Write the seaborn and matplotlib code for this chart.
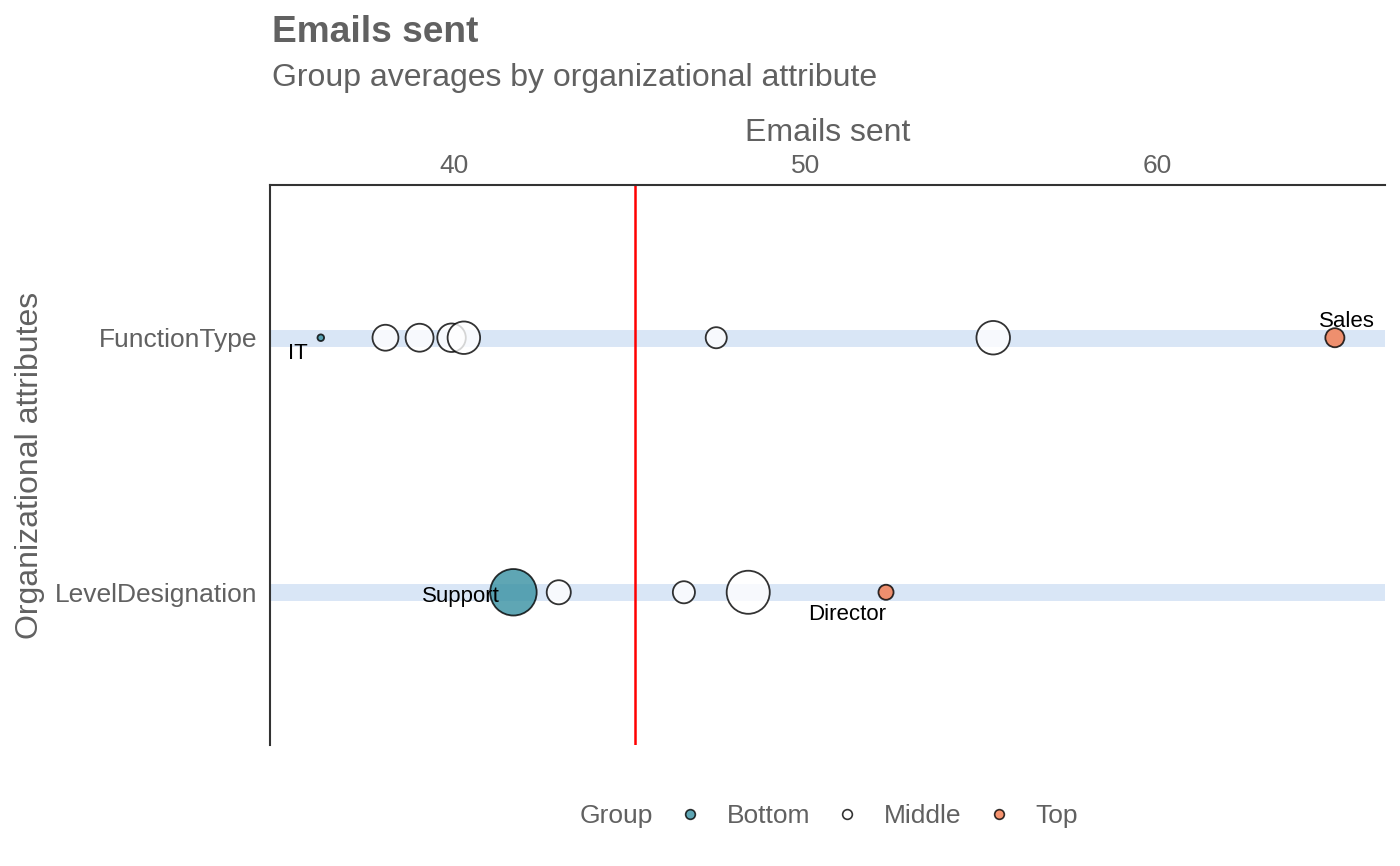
import matplotlib
matplotlib.use("Agg")
import matplotlib.pyplot as plt
import seaborn as sns
import pandas as pd
from matplotlib.lines import Line2D

# ---- data ----
attributes = ["FunctionType"] * 8 + ["LevelDesignation"] * 5
emails = [36.21, 38.05, 39.02, 39.93, 40.28, 47.46, 55.34, 65.06,
          41.69, 42.98, 46.54, 48.37, 52.29]
group_size = [11, 168, 195, 203, 264, 111, 281, 91,
              541, 145, 122, 464, 57]
groups = ["Bottom", "Middle", "Middle", "Middle", "Middle", "Middle", "Middle", "Top",
          "Bottom", "Middle", "Middle", "Middle", "Top"]
labels = ["IT", "", "", "", "", "", "", "Sales",
          "Support", "", "", "", "Director"]
overall_mean = 45.15
x_ticks = [40, 50, 60]
legend_groups = ["Bottom", "Middle", "Top"]

# ---- style ----
sns.set_theme(style="white")
plt.rcParams["font.family"] = ["Liberation Sans", "DejaVu Sans"]
GREY = "#616161"

df = pd.DataFrame({"attr": attributes, "emails": emails, "n": group_size,
                   "group": groups, "label": labels})

palette = {"Bottom": "#3790a1", "Middle": "#ffffff", "Top": "#f4794c"}

fig = plt.figure(figsize=(14, 8.66), dpi=100)
ax = fig.add_axes([270 / 1400, 1 - 745 / 866, 1115 / 1400, 560 / 866])

# background bands
for i, a in enumerate(pd.unique(df["attr"])):
    ax.axhline(i, color="#d9e6f6", lw=12.2, zorder=0)

ax.axvline(overall_mean, color="red", lw=1.8, zorder=1)

sns.scatterplot(data=df, x="emails", y="attr", hue="group", size="n",
                palette=palette, sizes=(22.8, 1121.5), size_norm=(11, 541),
                alpha=0.8, edgecolor="#000000", linewidth=1.3,
                legend=False, ax=ax, zorder=3)

offsets = {"IT": (-16.3, -11.0), "Sales": (8.9, 12.0),
           "Support": (-38, -3.0), "Director": (-28, -16.0)}
ymap = {a: i for i, a in enumerate(pd.unique(df["attr"]))}
for _, r in df.iterrows():
    if r["label"]:
        ax.annotate(r["label"], (r["emails"], ymap[r["attr"]]),
                    xytext=offsets[r["label"]], textcoords="offset points",
                    ha="center", va="center", fontsize=16, color="black", zorder=4)

ax.set_xlim(34.765, 66.486)
ax.set_ylim(1.6, -0.6)
ax.set_xticks(x_ticks)
ax.xaxis.tick_top()
ax.tick_params(axis="both", length=0, labelsize=19, labelcolor=GREY)
ax.tick_params(axis="x", pad=5)
ax.tick_params(axis="y", pad=9.4)
ax.set_xlabel("")
ax.set_ylabel("")
for s in ["right", "bottom"]:
    ax.spines[s].set_visible(False)
for s in ["left", "top"]:
    ax.spines[s].set_color("#333333")
    ax.spines[s].set_linewidth(1.5)
ax.grid(False)

# titles
fig.text(272 / 1400, 1 - 42 / 866, "Emails sent", fontsize=26.7, fontweight="bold",
         color=GREY, ha="left", va="baseline")
fig.text(272 / 1400, 1 - 86 / 866, "Group averages by organizational attribute",
         fontsize=23, color=GREY, ha="left", va="baseline")
fig.text(827.5 / 1400, 1 - 141 / 866, "Emails sent", fontsize=23, color=GREY,
         ha="center", va="baseline")
fig.text(30 / 1400, 1 - 465 / 866, "Organizational attributes", fontsize=23,
         color=GREY, ha="center", va="center", rotation=90)

# legend
fig.text(580 / 1400, 1 - 816 / 866, "Group", fontsize=19, color=GREY,
         ha="left", va="center")
handles = [Line2D([], [], marker="o", linestyle="", markersize=7,
                  markerfacecolor=palette[g], markeredgecolor="#000000",
                  markeredgewidth=1.2, alpha=0.8) for g in legend_groups]
leg = fig.legend(handles, legend_groups, loc="center left",
                 bbox_to_anchor=(682 / 1400, 1 - 816 / 866), ncol=3,
                 frameon=False, fontsize=19, handlelength=0.6,
                 handletextpad=1.1, columnspacing=1.1, borderpad=0,
                 borderaxespad=0)
for t in leg.get_texts():
    t.set_color(GREY)

fig.savefig("out.png", dpi=100, facecolor="white")
